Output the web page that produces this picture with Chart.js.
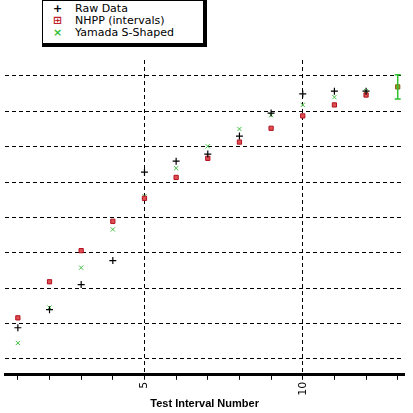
<!DOCTYPE html>
<html><head><meta charset="utf-8">
<script src="https://cdn.jsdelivr.net/npm/chart.js@4/dist/chart.umd.min.js"></script>
<style>
html,body{margin:0;padding:0;background:#fff;}
#wrap{position:relative;width:413px;height:413px;}
#legend{position:absolute;left:42px;top:0;width:160px;height:40px;background:#fff;border:1px solid #000;border-right:4px solid #000;border-bottom:4px solid #000;font:11px "DejaVu Sans",sans-serif;line-height:12px;padding-top:2px;box-sizing:content-box;z-index:2}
#legend div{padding-left:10px;white-space:nowrap}
#legend span{display:inline-block;width:22px;font-weight:bold}
</style></head><body>
<div id="wrap">
<canvas id="c" width="413" height="413"></canvas>
<div id="legend">
<div><span style="color:#000">+</span>Raw Data</div>
<div><span style="color:#c0202a">&#8862;</span>NHPP (intervals)</div>
<div><span style="color:#30c030">&#215;</span>Yamada S-Shaped</div>
</div>
</div>
<script>
const intervals=[1,2,3,4,5,6,7,8,9,10,11,12];
const rawData=[0.88,1.39,2.1,2.78,5.28,5.59,5.79,6.3,6.95,7.49,7.57,7.57];
const nhpp=[1.16,2.18,3.06,3.89,4.54,5.13,5.67,6.13,6.52,6.87,7.18,7.46];
const yamada=[0.45,1.45,2.58,3.66,4.6,5.39,6.01,6.5,6.89,7.18,7.4,7.57];
const predX=13, predY=7.69, predLow=7.35, predHigh=8.03;
const xLabels=[5,10];

const pts=(v)=>v.map((y,i)=>({x:intervals[i],y}));
const errPlugin={id:'err',afterDatasetsDraw(ch){
 const c=ch.ctx,xs=ch.scales.x,ys=ch.scales.y;
 const x=xs.getPixelForValue(predX),y1=ys.getPixelForValue(predLow),y2=ys.getPixelForValue(predHigh);
 c.save();c.strokeStyle='#30c030';c.lineWidth=1.5;c.beginPath();
 c.moveTo(x,y1);c.lineTo(x,y2);c.moveTo(x-3,y1);c.lineTo(x+3,y1);c.moveTo(x-3,y2);c.lineTo(x+3,y2);c.stroke();c.restore();
}};
new Chart(document.getElementById('c'),{
 type:'scatter',
 data:{datasets:[
  {label:'Raw Data',data:pts(rawData),pointStyle:'cross',pointRadius:3.5,borderColor:'#000',borderWidth:1.2},
  {label:'NHPP (intervals)',data:pts(nhpp),pointStyle:'rect',pointRadius:3,backgroundColor:'#e05050',borderColor:'#b01020',borderWidth:1},
  {label:'Yamada S-Shaped',data:pts(yamada),pointStyle:'crossRot',pointRadius:3,borderColor:'#40c040',borderWidth:1},
  {label:'Prediction',data:[{x:predX,y:predY}],pointStyle:'rect',pointRadius:3,backgroundColor:'#9a9a20',borderColor:'#806010',borderWidth:1}
 ]},
 options:{responsive:false,animation:false,devicePixelRatio:1,
  layout:{padding:{left:0,right:0,top:60,bottom:0}},
  plugins:{legend:{display:false},tooltip:{enabled:false}},
  scales:{
   x:{type:'linear',min:0.6,max:13.2,
    afterBuildTicks(s){s.ticks=intervals.concat([13]).map(v=>({value:v}));},
    ticks:{autoSkip:false,minRotation:90,maxRotation:90,color:'#000',font:{size:11,family:'DejaVu Sans'},padding:2,
      callback:v=>xLabels.includes(v)?String(v):''},
    grid:{color:c=>xLabels.includes(c.tick&&c.tick.value)?'#000':'rgba(0,0,0,0)',tickColor:'#000',tickLength:5,lineWidth:1,drawOnChartArea:true},
    border:{color:'#000',width:3,dash:[4,3]},
    title:{display:true,text:'Test Interval Number',color:'#000',font:{size:11,weight:'bold',family:'Liberation Sans'},padding:{top:0,bottom:2}}
   },
   y:{type:'linear',min:-0.45,max:8.45,
    afterFit(s){s.width=0;},
    afterBuildTicks(s){s.ticks=[0,1,2,3,4,5,6,7,8].map(v=>({value:v}));},
    ticks:{display:false},
    grid:{color:'#000',drawTicks:false,lineWidth:1},
    border:{display:false,dash:[4,3]}
   }
  }
 },
 plugins:[errPlugin]
});
</script>
</body></html>
